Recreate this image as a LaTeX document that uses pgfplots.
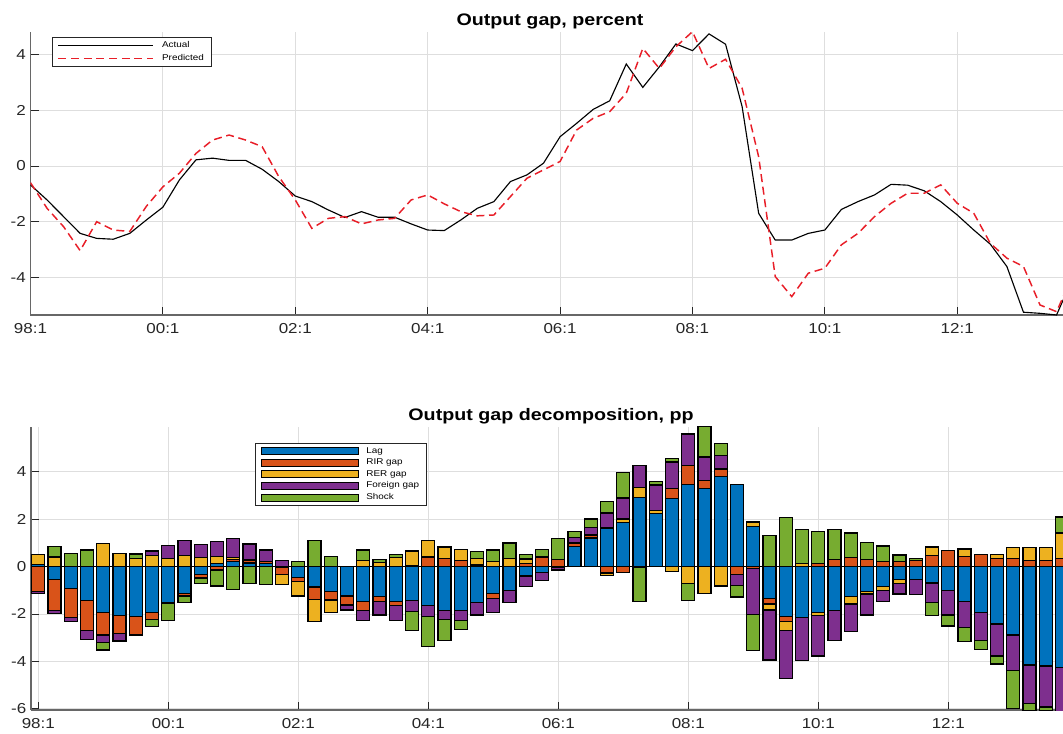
\documentclass[border=0pt]{standalone}
\usepackage{fontspec}
\setmainfont{Liberation Sans}
\usepackage{graphicx}
\usepackage{pgfplots}
\usepackage{pgfplotstable}
\pgfplotsset{compat=1.18}

% MATLAB default palette
\definecolor{mLag}{RGB}{0,114,189}
\definecolor{mRIR}{RGB}{217,83,25}
\definecolor{mRER}{RGB}{237,177,32}
\definecolor{mFor}{RGB}{126,47,142}
\definecolor{mShk}{RGB}{119,172,48}
\definecolor{axgray}{RGB}{38,38,38}
\definecolor{gridgray}{RGB}{222,222,222}
\definecolor{predred}{RGB}{232,30,40}

% wide text, as in the exported figure
\newcommand{\hs}[1]{\scalebox{1.18}[1]{#1}}

% output gap: actual and predicted, quarterly from 1998Q1
\pgfplotstableread{
i act pred
0 -0.68 -0.60
1 -1.22 -1.52
2 -1.82 -2.18
3 -2.42 -3.04
4 -2.60 -2.00
5 -2.63 -2.30
6 -2.42 -2.35
7 -1.94 -1.45
8 -1.48 -0.75
9 -0.50 -0.26
10 0.22 0.45
11 0.28 0.93
12 0.20 1.11
13 0.20 0.93
14 -0.12 0.69
15 -0.56 -0.38
16 -1.08 -1.22
17 -1.28 -2.24
18 -1.58 -1.88
19 -1.85 -1.82
20 -1.64 -2.08
21 -1.84 -1.94
22 -1.84 -1.88
23 -2.08 -1.22
24 -2.30 -1.04
25 -2.32 -1.36
26 -1.94 -1.64
27 -1.52 -1.79
28 -1.28 -1.76
29 -0.56 -1.10
30 -0.32 -0.44
31 0.10 -0.14
32 1.05 0.16
33 1.53 1.29
34 2.03 1.71
35 2.34 1.95
36 3.66 2.61
37 2.82 4.22
38 3.56 3.50
39 4.38 4.28
40 4.14 4.82
41 4.74 3.50
42 4.37 3.83
43 2.13 2.79
44 -1.70 0.33
45 -2.66 -3.97
46 -2.66 -4.69
47 -2.42 -3.85
48 -2.30 -3.67
49 -1.56 -2.83
50 -1.28 -2.42
51 -1.04 -1.82
52 -0.66 -1.34
53 -0.69 -0.98
54 -0.89 -0.98
55 -1.28 -0.68
56 -1.76 -1.34
57 -2.30 -1.70
58 -2.81 -2.78
59 -3.61 -3.31
60 -5.25 -3.61
61 -5.29 -4.99
62 -5.35 -5.23
63 -4.00 -3.90
}\gap

% decomposition, percentage points
\pgfplotstableread{
i lag rir rer for shk
0 0.08 -1.05 0.44 -0.10 0
1 -0.54 -1.32 0.40 -0.11 0.43
2 -0.92 -1.22 0 -0.18 0.55
3 -1.44 -1.27 0 -0.37 0.70
4 -1.94 -0.95 0.96 -0.32 -0.31
5 -2.08 -0.74 0.56 -0.32 0
6 -2.11 -0.78 0.35 0 0.18
7 -1.94 -0.29 0.47 0.18 -0.31
8 -1.52 -0.05 0.35 0.52 -0.71
9 -1.13 -0.11 0.45 0.65 -0.28
10 -0.35 -0.14 0.38 0.56 -0.24
11 0.12 -0.15 0.30 0.62 -0.67
12 0.20 0.10 0.08 0.80 -0.96
13 0.15 0.12 0.03 0.65 -0.73
14 0.12 0.10 0 0.48 -0.76
15 -0.05 -0.30 -0.40 0.25 0
16 -0.45 -0.18 -0.61 0 0.20
17 -0.87 -0.51 -0.94 0 1.10
18 -1.06 -0.35 -0.53 0 0.42
19 -1.24 -0.38 0 -0.21 0
20 -1.48 -0.38 0.25 -0.42 0.45
21 -1.27 -0.21 0.18 -0.56 0.10
22 -1.48 -0.18 0.37 -0.62 0.15
23 -1.44 0.05 0.60 -0.46 -0.80
24 -1.66 0.40 0.68 -0.45 -1.27
25 -1.86 0.33 0.49 -0.36 -0.91
26 -1.86 0.25 0.48 -0.42 -0.37
27 -1.52 0.06 0.27 -0.52 0.31
28 -1.15 -0.19 0.20 -0.60 0.50
29 -1.01 0 0.33 -0.51 0.66
30 -0.40 0.12 0.20 -0.45 0.18
31 -0.25 0.37 0.05 -0.34 0.30
32 -0.05 0.30 0 -0.10 0.87
33 0.85 0.12 0.04 0.22 0.25
34 1.20 0.10 0.06 0.28 0.36
35 1.62 -0.28 -0.10 0.63 0.49
36 1.86 -0.25 0.14 0.89 1.06
37 2.92 -0.05 0.42 0.92 -1.43
38 2.22 0 0.14 1.08 0.14
39 2.86 0.42 -0.20 1.13 0.14
40 3.47 0.80 -0.73 1.31 -0.71
41 3.30 0.32 -1.13 0.99 1.30
42 3.80 0.31 -0.82 0.56 0.51
43 3.47 -0.35 0 -0.46 -0.48
44 1.70 -0.10 0.17 -1.93 -1.51
45 -1.34 -0.24 -0.25 -2.11 1.31
46 -2.11 -0.21 -0.38 -2.02 2.08
47 -2.14 0 0.12 -1.83 1.44
48 -1.94 0.12 -0.14 -1.69 1.34
49 -1.86 0.30 0 -1.27 1.27
50 -1.27 0.37 -0.31 -1.17 1.04
51 -1.06 0.30 -0.10 -0.89 0.70
52 -0.85 0.20 -0.16 -0.47 0.66
53 -0.54 0.20 -0.17 -0.45 0.28
54 -0.56 0.25 0 -0.63 0.10
55 -0.70 0.47 0.35 -0.82 -0.56
56 -1.01 0.68 0 -1.03 -0.47
57 -1.48 0.42 0.32 -1.08 -0.61
58 -1.94 0.50 0 -1.19 -0.36
59 -2.42 0.33 0.18 -1.35 -0.34
60 -2.89 0.33 0.47 -1.50 -1.60
61 -4.15 0.25 0.56 -1.62 -0.29
62 -4.20 0.25 0.56 -1.72 -0.15
63 -4.25 0.35 1.06 -1.85 0.68
}\bars

\pgfplotsset{
  mstyle/.style={
    scale only axis,
    anchor=south west,
    axis x line=bottom, axis y line=left,
    axis line style={-, axgray!70, line width=0.9pt},
    tick align=inside,
    major tick length=6pt,
    tick style={axgray, line width=0.6pt},
    grid=major,
    major grid style={gridgray, line width=0.6pt},
    ticklabel style={font=\fontsize{10.8}{12}\selectfont, text=axgray},
    xticklabel style={yshift=-3pt},
    xtick={0,8,...,56},
    xticklabels={\hs{98:1},\hs{00:1},\hs{02:1},\hs{04:1},\hs{06:1},\hs{08:1},\hs{10:1},\hs{12:1}},
  },
  lineleg/.style={legend image code/.code={\draw[##1] (0pt,0pt) -- (71pt,0pt);}},
  barleg/.style={legend image code/.code={\draw[##1, line width=0.6pt] (0pt,-2.6pt) rectangle (72.75pt,2.6pt);}},
  segment/.style={fill=#1, draw=black, line width=0.95pt},
}

\begin{document}
\begin{tikzpicture}
\useasboundingbox (0,0) rectangle (797.25pt,549.75pt);

% ---------- output gap ----------
\begin{axis}[mstyle,
  at={(22.875pt,313.5pt)}, width=774.375pt, height=212.5pt,
  xmin=0, xmax=62.39, ymin=-5.35, ymax=4.82,
  ytick={-4,-2,0,2,4},
  yticklabels={\hs{-4},\hs{-2},\hs{0},\hs{2},\hs{4}},
  legend style={at={(0.0208,0.9813)}, anchor=north west,
    font=\fontsize{6.3}{7}\selectfont, draw=axgray, line width=0.6pt,
    inner xsep=4pt, inner ysep=1.5pt, row sep=0pt,
    nodes={inner sep=1.7pt, text depth=0.15em},
    /tikz/every odd column/.append style={column sep=4.5pt}},
  legend cell align=left,
]
\addplot[black, line width=0.85pt, lineleg] table[x=i, y=act] {\gap};
\addlegendentry{\hs{Actual}}
\addplot[predred, line width=1.1pt, dash pattern=on 6pt off 3.5pt, lineleg] table[x=i, y=pred] {\gap};
\addlegendentry{\hs{Predicted}}
\end{axis}
\node[font=\bfseries\fontsize{12.5}{14}\selectfont] at (412.5pt,534pt) {\hs{Output gap, percent}};

% ---------- decomposition: positive contributions ----------
\begin{axis}[mstyle,
  at={(23.25pt,17.25pt)}, width=774pt, height=212.25pt,
  xmin=-0.45, xmax=63.06, ymin=-6.05, ymax=5.88,
  ytick={-6,-4,-2,0,2,4},
  yticklabels={\hs{-6},\hs{-4},\hs{-2},\hs{0},\hs{2},\hs{4}},
  extra y ticks={0}, extra y tick labels={},
  extra y tick style={major grid style={black, line width=0.7pt}, tick style={draw=none}},
  ybar stacked, bar width=0.8,
  legend style={at={(0.217,0.9435)}, anchor=north west,
    font=\fontsize{6.3}{7}\selectfont, draw=axgray, line width=0.6pt,
    inner xsep=4pt, inner ysep=1.5pt, row sep=0pt,
    nodes={inner sep=1.4pt, text depth=0.15em},
    /tikz/every odd column/.append style={column sep=4.5pt}},
  legend cell align=left,
]
\addplot[segment=mLag, barleg] table[x=i, y expr={max(\thisrow{lag},0)}] {\bars};
\addlegendentry{\hs{Lag}}
\addplot[segment=mRIR, barleg] table[x=i, y expr={max(\thisrow{rir},0)}] {\bars};
\addlegendentry{\hs{RIR gap}}
\addplot[segment=mRER, barleg] table[x=i, y expr={max(\thisrow{rer},0)}] {\bars};
\addlegendentry{\hs{RER gap}}
\addplot[segment=mFor, barleg] table[x=i, y expr={max(\thisrow{for},0)}] {\bars};
\addlegendentry{\hs{Foreign gap}}
\addplot[segment=mShk, barleg] table[x=i, y expr={max(\thisrow{shk},0)}] {\bars};
\addlegendentry{\hs{Shock}}
\end{axis}

% ---------- decomposition: negative contributions ----------
\begin{axis}[scale only axis, anchor=south west, hide axis,
  at={(23.25pt,17.25pt)}, width=774pt, height=212.25pt,
  xmin=-0.45, xmax=63.06, ymin=-6.05, ymax=5.88,
  ybar stacked, bar width=0.8,
]
\addplot[segment=mLag] table[x=i, y expr={min(\thisrow{lag},0)}] {\bars};
\addplot[segment=mRIR] table[x=i, y expr={min(\thisrow{rir},0)}] {\bars};
\addplot[segment=mRER] table[x=i, y expr={min(\thisrow{rer},0)}] {\bars};
\addplot[segment=mFor] table[x=i, y expr={min(\thisrow{for},0)}] {\bars};
\addplot[segment=mShk] table[x=i, y expr={min(\thisrow{shk},0)}] {\bars};
\end{axis}
\node[font=\bfseries\fontsize{12.5}{14}\selectfont] at (413.25pt,237.75pt) {\hs{Output gap decomposition, pp}};
\end{tikzpicture}
\end{document}
